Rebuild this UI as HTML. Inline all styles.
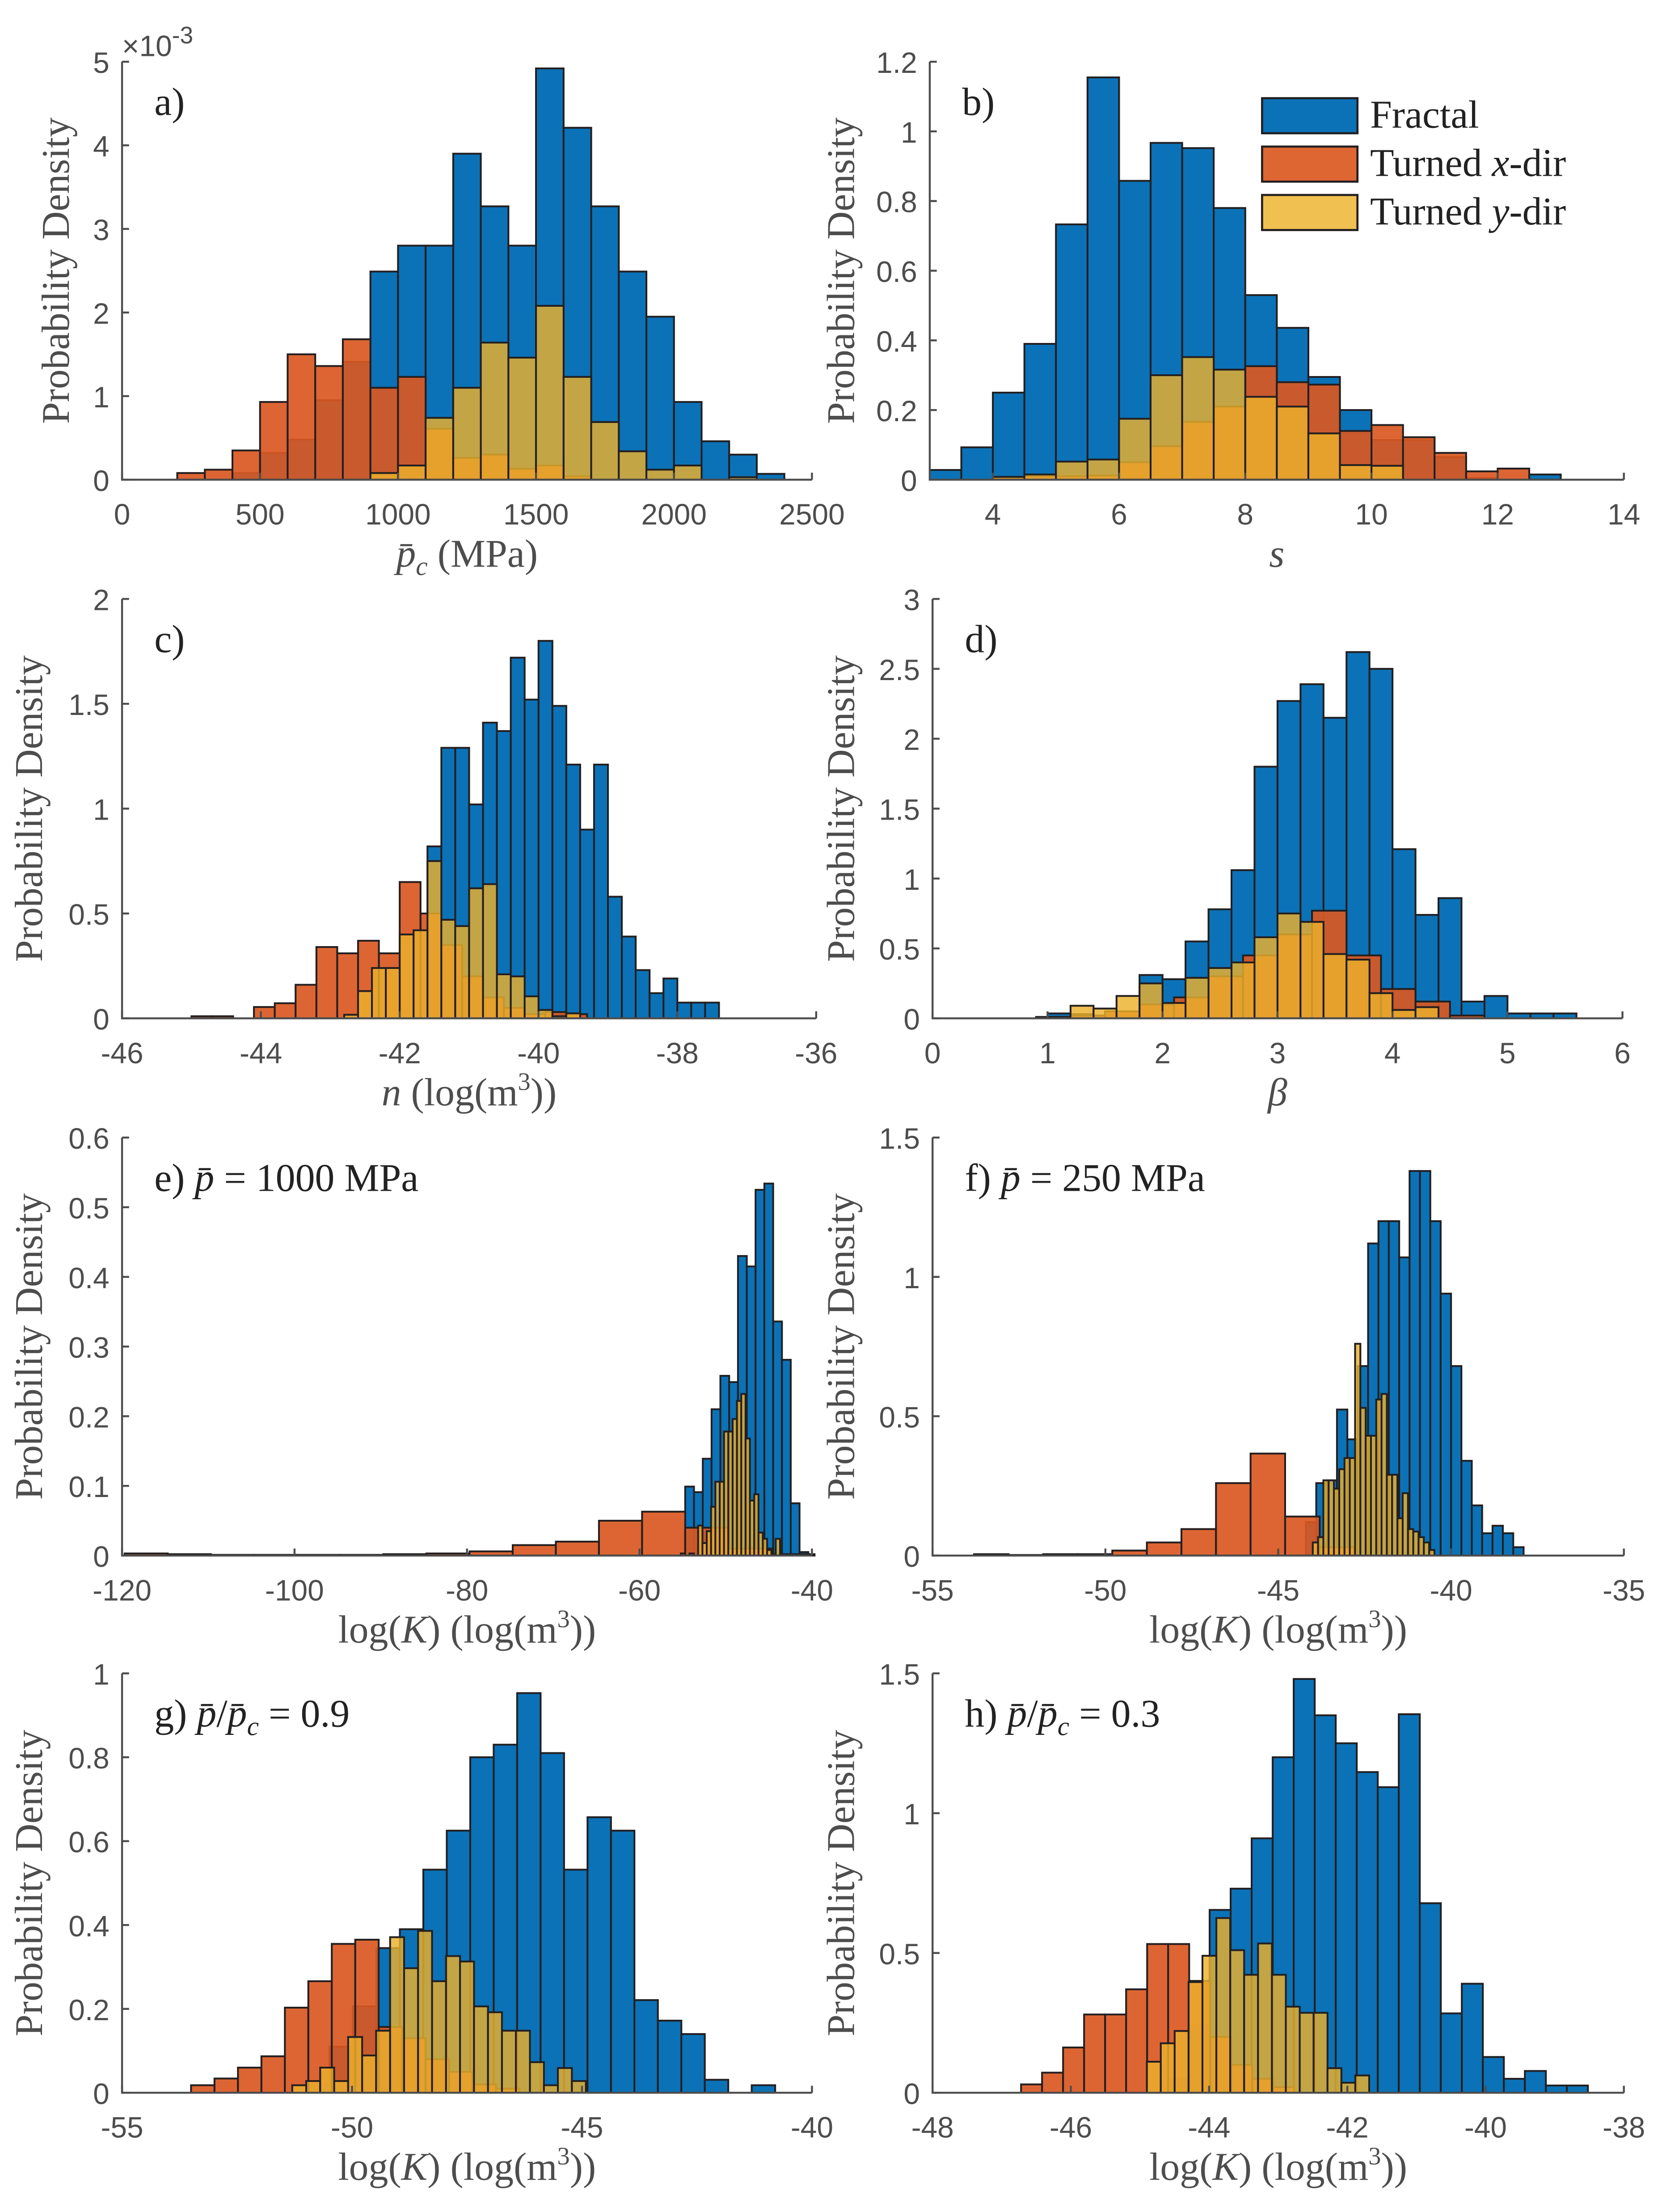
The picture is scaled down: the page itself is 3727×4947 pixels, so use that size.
<!DOCTYPE html>
<html><head><meta charset="utf-8"><title>Probability density histograms</title>
<style>
html,body{margin:0;padding:0;background:#fff;}
svg{display:block;}
.tick{font-family:"Liberation Sans",sans-serif;font-size:21px;fill:#4d4d4d;}
.lab{font-family:"Liberation Serif",serif;font-size:28px;fill:#4d4d4d;}
.ann{font-family:"Liberation Serif",serif;font-size:28px;fill:#222;}
</style></head>
<body>
<svg id="fig" xmlns="http://www.w3.org/2000/svg" width="3727" height="4947" viewBox="0 0 1188 1577">
<rect x="0" y="0" width="1188" height="1577" fill="#fff"/>
</svg>
<script>
// ---- data (bin starts, bin widths, heights) ----
const aStart=[400,200,900]; const aWidth=[100,100,100];
const aFractal=[0.08,0.32,0.48,0.95,1.41,2.49,2.80,2.80,3.90,3.27,2.80,4.92,4.21,3.27,2.49,1.95,0.93,0.46,0.30,0.07];
const aTurnedX=[0.08,0.12,0.35,0.93,1.50,1.36,1.68,1.10,1.23,0.61,0.26,0.30,0.13,0.17,0.04];
const aTurnedY=[0.08,0.17,0.74,1.10,1.64,1.46,2.08,1.23,0.69,0.34,0.12,0.17,0,0.03];

const bStart=[3.0,4.0,4.0]; const bWidth=[0.5,0.5,0.5];
const bFractal=[0.028,0.093,0.25,0.39,0.733,1.155,0.858,0.967,0.952,0.78,0.53,0.436,0.295,0.20,0.114,0.114,0.065,0.005,0,0.015];
const bTurnedX=[0.008,0.01,0.01,0.012,0.05,0.096,0.166,0.21,0.326,0.28,0.273,0.14,0.157,0.122,0.077,0.024,0.032];
const bTurnedY=[0.008,0.015,0.052,0.058,0.175,0.30,0.352,0.316,0.238,0.21,0.133,0.042,0.04];

const cStart=[-41.6,-45.0,-42.8]; const cWidth=[0.2,0.3,0.2];
const cFractal=[0.82,1.29,1.29,1.02,1.41,1.37,1.72,1.52,1.80,1.49,1.21,0.90,1.21,0.58,0.39,0.23,0.12,0.19,0.075,0.075,0.075];
const cTurnedX=[0.01,0.01,0,0.054,0.072,0.16,0.34,0.31,0.37,0.31,0.65,0.5,0.35,0.2,0.1,0.05,0.02,0.03,0.02];
const cTurnedY=[0.017,0.13,0.24,0.24,0.40,0.42,0.75,0.47,0.44,0.62,0.64,0.21,0.20,0.105,0.04,0.01,0.024];

const dStart=[1.0,0.9,1.2]; const dWidth=[0.2,0.3,0.2];
const dFractal=[0.035,0.03,0.02,0.02,0.31,0.28,0.55,0.78,1.06,1.80,2.27,2.39,2.15,2.62,2.50,1.21,0.74,0.86,0.12,0.16,0.035,0.035,0.035];
const dTurnedX=[0.01,0.02,0.05,0.1,0.15,0.3,0.45,0.6,0.77,0.45,0.21,0.12,0.02];
const dTurnedY=[0.09,0.07,0.16,0.25,0.11,0.29,0.36,0.40,0.58,0.75,0.69,0.46,0.42,0.18,0.06,0.08];

const eStart=[-54.7,-119.7,-55.2]; const eWidth=[1.02,5,0.5];
const eFractal=[0.099,0.091,0.139,0.210,0.258,0.249,0.430,0.415,0.525,0.534,0.336,0.281,0.075,0.005];
const eTurnedX=[0.003,0.002,0.001,0.001,0.001,0.001,0.002,0.003,0.006,0.015,0.02,0.05,0.063,0.04,0.01,0.002];
const eTurnedY=[0.003,0,0.003,0,0.043,0.018,0.035,0.07,0.106,0.106,0.178,0.178,0.196,0.222,0.232,0.168,0.079,0.088,0.033,0.024,0.008,0,0.024];

const fStart=[-44.2,-53.8,-44.0]; const fWidth=[0.3,1.0,0.153];
const fFractal=[0.12,0.26,0.27,0.524,0.417,0.68,1.12,1.20,1.20,1.07,1.38,1.38,1.20,0.94,0.68,0.34,0.18,0.08,0.107,0.08,0.03];
const fTurnedX=[0.005,0.002,0.005,0.005,0.018,0.047,0.095,0.26,0.366,0.14,0.03];
const fTurnedY=[0.047,0.066,0.27,0.27,0.24,0.31,0.35,0.35,0.76,0.53,0.43,0.43,0.56,0.58,0.29,0.29,0.134,0.224,0.095,0.086,0.066,0.047,0.02];

const gStart=[-51.0,-53.5,-51.3]; const gWidth=[0.51,0.51,0.304];
const gFractal=[0.02,0.11,0.206,0.345,0.39,0.532,0.625,0.80,0.83,0.953,0.81,0.532,0.657,0.625,0.221,0.172,0.14,0.031,0,0.018];
const gTurnedX=[0.018,0.034,0.06,0.087,0.203,0.266,0.355,0.365,0.157,0.13,0.08,0.05,0.02,0.01];
const gTurnedY=[0.018,0.028,0.06,0.028,0.133,0.089,0.148,0.371,0.297,0.386,0.266,0.326,0.313,0.206,0.192,0.148,0.148,0.073,0.018,0.059,0.028];

const hStart=[-44.6,-46.72,-44.9]; const hWidth=[0.304,0.304,0.201];
const hFractal=[0.05,0.24,0.654,0.73,0.91,1.20,1.48,1.35,1.25,1.147,1.093,1.354,0.678,0.284,0.39,0.128,0.05,0.078,0.026,0.026];
const hTurnedX=[0.03,0.072,0.162,0.28,0.28,0.37,0.532,0.532,0.40,0.2,0.1,0.05,0.02];
const hTurnedY=[0.111,0.177,0.221,0.396,0.49,0.625,0.51,0.422,0.534,0.422,0.308,0.286,0.286,0.088,0.036,0.062];

// tick labels
const aXTicks=[0,500,1000,1500,2000,2500]; const aYTicks=[0,1,2,3,4,5];
const bXTicks=[4,6,8,10,12,14]; const bYTicks=[0,0.2,0.4,0.6,0.8,1,1.2];
const cXTicks=[-46,-44,-42,-40,-38,-36]; const cYTicks=[0,0.5,1,1.5,2];
const dXTicks=[0,1,2,3,4,5,6]; const dYTicks=[0,0.5,1,1.5,2,2.5,3];
const eXTicks=[-120,-100,-80,-60,-40]; const eYTicks=[0,0.1,0.2,0.3,0.4,0.5,0.6];
const fXTicks=[-55,-50,-45,-40,-35]; const fYTicks=[0,0.5,1,1.5];
const gXTicks=[-55,-50,-45,-40]; const gYTicks=[0,0.2,0.4,0.6,0.8,1];
const hXTicks=[-48,-46,-44,-42,-40,-38]; const hYTicks=[0,0.5,1,1.5];

const NS="http://www.w3.org/2000/svg";
const svg=document.getElementById('fig');
function mk(tag,attrs,parent){const el=document.createElementNS(NS,tag);for(const k in attrs)el.setAttribute(k,attrs[k]);(parent||svg).appendChild(el);return el;}

const panels=[
 {id:'a',box:[87,579,342,44],xd:[0,2500],yd:[0,5],start:aStart,width:aWidth,series:[aFractal,aTurnedX,aTurnedY],xt:aXTicks,yt:aYTicks,ylx:40,xl:'pc',ann:'a)'},
 {id:'b',box:[663,1158,342,44],xd:[3,14],yd:[0,1.2],start:bStart,width:bWidth,series:[bFractal,bTurnedX,bTurnedY],xt:bXTicks,yt:bYTicks,ylx:600,xl:'s',ann:'b)'},
 {id:'c',box:[87,582,726,427],xd:[-46,-36],yd:[0,2],start:cStart,width:cWidth,series:[cFractal,cTurnedX,cTurnedY],xt:cXTicks,yt:cYTicks,ylx:21,xl:'n',ann:'c)'},
 {id:'d',box:[665,1157,726,427],xd:[0,6],yd:[0,3],start:dStart,width:dWidth,series:[dFractal,dTurnedX,dTurnedY],xt:dXTicks,yt:dYTicks,ylx:600,xl:'beta',ann:'d)'},
 {id:'e',box:[87,579,1109,811],xd:[-120,-40],yd:[0,0.6],start:eStart,width:eWidth,series:[eFractal,eTurnedX,eTurnedY],xt:eXTicks,yt:eYTicks,ylx:21,xl:'K',ann:'e'},
 {id:'f',box:[665,1158,1109,811],xd:[-55,-35],yd:[0,1.5],start:fStart,width:fWidth,series:[fFractal,fTurnedX,fTurnedY],xt:fXTicks,yt:fYTicks,ylx:600,xl:'K',ann:'f'},
 {id:'g',box:[87,579,1492,1193],xd:[-55,-40],yd:[0,1],start:gStart,width:gWidth,series:[gFractal,gTurnedX,gTurnedY],xt:gXTicks,yt:gYTicks,ylx:21,xl:'K',ann:'g'},
 {id:'h',box:[665,1158,1492,1193],xd:[-48,-38],yd:[0,1.5],start:hStart,width:hWidth,series:[hFractal,hTurnedX,hTurnedY],xt:hXTicks,yt:hYTicks,ylx:600,xl:'K',ann:'h'}
];
const fills=['#0b72b7','#da5822','#ebb12c'];
const fops=[1,0.92,0.82];
const snames=['fractal','turned-x','turned-y'];

panels.forEach(p=>{
 const [x0,x1,y0,y1]=p.box;
 const g=mk('g',{});
 
 
 const sx=v=>x0+(v-p.xd[0])/(p.xd[1]-p.xd[0])*(x1-x0);
 const sy=v=>y0-(v-p.yd[0])/(p.yd[1]-p.yd[0])*(y0-y1);
 p.series.forEach((vals,si)=>{
  const sg=mk('g',{},g);
  
  
  vals.forEach((v,i)=>{
   if(v<=0) return;
   const a=p.start[si]+i*p.width[si], b=a+p.width[si];
   const xa=sx(a), xb=sx(b), yt=sy(v);
   const r=mk('rect',{x:xa,y:yt,width:Math.max(0,xb-xa),height:Math.max(0,y0-yt),fill:fills[si],'fill-opacity':fops[si],stroke:'#231f20','stroke-width':1.3},sg);
   
   
  });
 });
 const ax=mk('path',{d:`M${x0},${y1}V${y0}H${x1}`,fill:'none',stroke:'#4d4d4d','stroke-width':1.4},g);
 
 
 p.xt.forEach(t=>{
  const x=sx(t);
  const tk=mk('line',{x1:x,x2:x,y1:y0,y2:y0-5,stroke:'#4d4d4d','stroke-width':1.4},g);
  
  
  const tl=mk('text',{x:x,y:y0+32,'text-anchor':'middle',class:'tick'},g);
  tl.textContent=String(t);
  
  
 });
 p.yt.forEach(t=>{
  const y=sy(t);
  const tk=mk('line',{x1:x0,x2:x0+5,y1:y,y2:y,stroke:'#4d4d4d','stroke-width':1.4},g);
  
  
  const tl=mk('text',{x:x0-9,y:y+8,'text-anchor':'end',class:'tick'},g);
  tl.textContent=String(t);
  
  
 });
 const yl=mk('text',{x:0,y:0,'text-anchor':'middle',class:'lab',transform:`translate(${p.ylx+9},${(y0+y1)/2}) rotate(-90)`},g);
 yl.textContent='Probability Density';
 
 
 const xc=(x0+x1)/2, xly=y0+62;
 const xl=mk('text',{x:xc,y:xly,'text-anchor':'middle',class:'lab'},g);
 
 
 if(p.xl==='pc') xl.innerHTML='<tspan font-style="italic">p̄</tspan><tspan font-style="italic" font-size="19" dy="6">c</tspan><tspan dy="-6"> (MPa)</tspan>';
 else if(p.xl==='s') xl.innerHTML='<tspan font-style="italic">s</tspan>';
 else if(p.xl==='n') xl.innerHTML='<tspan font-style="italic">n</tspan> (log(m<tspan font-size="18" dy="-11">3</tspan><tspan dy="11">))</tspan>';
 else if(p.xl==='beta') xl.innerHTML='<tspan font-style="italic">β</tspan>';
 else xl.innerHTML='log(<tspan font-style="italic">K</tspan>) (log(m<tspan font-size="18" dy="-11">3</tspan><tspan dy="11">))</tspan>';
 const an=mk('text',{x:x0+23,y:y1+38,class:'ann'},g);
 
 
 if(p.ann==='e') an.innerHTML='e) <tspan font-style="italic">p̄</tspan> = 1000 MPa';
 else if(p.ann==='f') an.innerHTML='f) <tspan font-style="italic">p̄</tspan> = 250 MPa';
 else if(p.ann==='g') an.innerHTML='g) <tspan font-style="italic">p̄</tspan>/<tspan font-style="italic">p̄</tspan><tspan font-style="italic" font-size="19" dy="6">c</tspan><tspan dy="-6"> = 0.9</tspan>';
 else if(p.ann==='h') an.innerHTML='h) <tspan font-style="italic">p̄</tspan>/<tspan font-style="italic">p̄</tspan><tspan font-style="italic" font-size="19" dy="6">c</tspan><tspan dy="-6"> = 0.3</tspan>';
 else an.textContent=p.ann;
});

const ex=mk('text',{x:87,y:40,class:'tick','font-size':'21'});
ex.innerHTML='×10<tspan font-size="17" dy="-9">-3</tspan>';



const legend=mk('g',{});


const legLabels=['Fractal','Turned <tspan font-style="italic">x</tspan>-dir','Turned <tspan font-style="italic">y</tspan>-dir'];
const legFill=['#0b72b7','#dd6633','#f0c050'];
legLabels.forEach((l,i)=>{
 const y=70+i*34.5;
 const r=mk('rect',{x:900,y:y,width:68,height:25,fill:legFill[i],stroke:'#231f20','stroke-width':1.5},legend);
 
 
 const t=mk('text',{x:977,y:y+21,class:'ann'},legend);
 t.innerHTML=l;
 
 
});
</script>
</body></html>
